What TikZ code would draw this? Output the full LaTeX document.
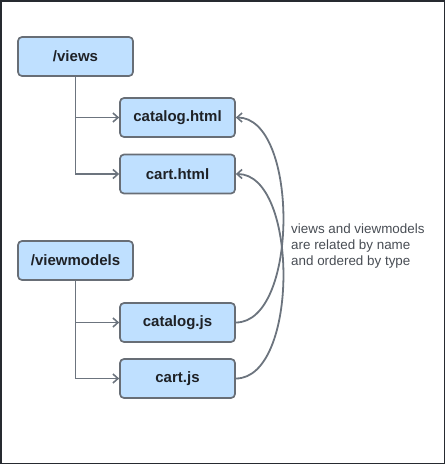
\documentclass[tikz,border=0pt]{standalone}
\usepackage{fontspec}
\setmainfont{Liberation Sans}
\usetikzlibrary{arrows.meta}
\definecolor{boxfill}{RGB}{191,224,255}
\definecolor{boxline}{RGB}{104,110,118}
\definecolor{conn}{RGB}{108,116,126}
\definecolor{txt}{RGB}{30,33,38}
\definecolor{note}{RGB}{72,77,84}
\definecolor{frame}{RGB}{38,42,48}
\begin{document}
\begin{tikzpicture}[x=1pt,y=-1pt,
  filebox/.style={draw=boxline, fill=boxfill, line width=1.7pt, rounded corners=4pt,
    minimum width=115pt, minimum height=39pt, inner sep=0pt,
    font=\fontsize{15}{16}\selectfont\bfseries, text=txt},
  link/.style={draw=conn, line width=1.8pt, -{Straight Barb[length=5pt,width=9pt,line width=1.6pt]}}
]
\useasboundingbox (0,0) rectangle (445,464);
\draw[frame, line width=1.5pt] (0.75,0.75) rectangle (444.25,463.25);

\node[filebox] (views) at (75.5,56.5) {/views};
\node[filebox] (chtml) at (177.5,117.5) {catalog.html};
\node[filebox] (cahtml) at (177.5,174) {cart.html};
\node[filebox] (vm) at (75.5,260.5) {/viewmodels};
\node[filebox] (cjs) at (177.5,322.5) {catalog.js};
\node[filebox] (cajs) at (177.5,378.5) {cart.js};

\draw[link] (views.south) |- (chtml.west);
\draw[link] (views.south) |- (cahtml.west);
\draw[link] (vm.south) |- (cjs.west);
\draw[link] (vm.south) |- (cajs.west);

\draw[link] (cjs.east) .. controls (299,322.5) and (299,117.5) .. (chtml.east);
\draw[link] (cajs.east) .. controls (299,378.5) and (299,174) .. (cahtml.east);

\node[anchor=west, align=left, inner sep=0pt, text=note,
  font=\fontsize{13.4}{16}\selectfont] (label) at (291,246)
  {views and viewmodels\\are related by name\\and ordered by type};
\end{tikzpicture}
\end{document}
